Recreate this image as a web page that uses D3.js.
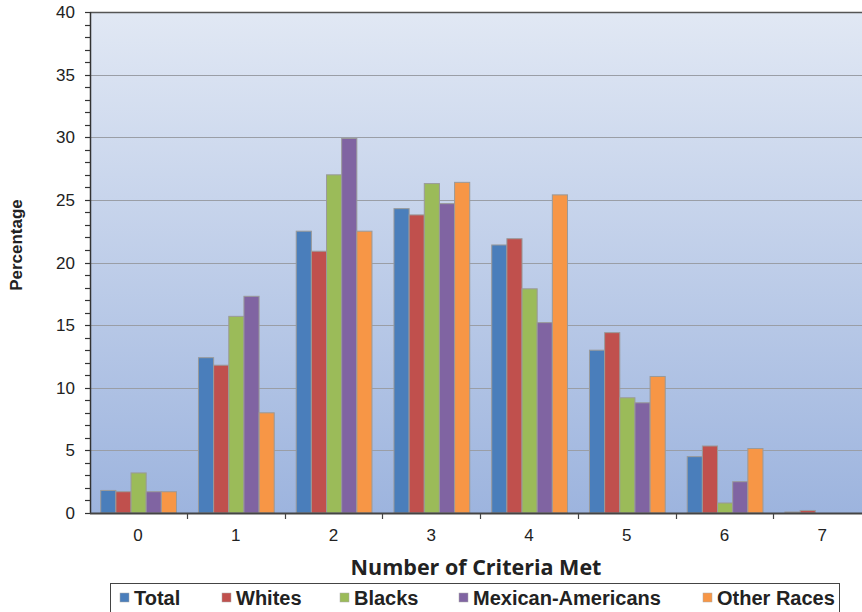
<!DOCTYPE html>
<html>
<head>
<meta charset="utf-8">
<script src="https://cdn.jsdelivr.net/npm/d3@7"></script>
<style>
  body { margin: 0; background: #fff; }
  svg { display: block; }
</style>
</head>
<body>
<div id="chart"></div>
<script>
// Data
const categories = ["0", "1", "2", "3", "4", "5", "6", "7"];
const seriesNames = ["Total", "Whites", "Blacks", "Mexican-Americans", "Other Races"];
const seriesColors = ["#4a7ebb", "#c0504d", "#9bbb59", "#8064a2", "#f79646"];
const total = [1.8, 12.4, 22.5, 24.3, 21.4, 13.0, 4.5, 0.08];
const whites = [1.7, 11.8, 20.9, 23.8, 21.9, 14.4, 5.35, 0.2];
const blacks = [3.2, 15.7, 27.0, 26.3, 17.9, 9.2, 0.8, 0];
const mexicanAmericans = [1.7, 17.3, 29.9, 24.7, 15.2, 8.8, 2.5, 0];
const otherRaces = [1.7, 8.0, 22.5, 26.4, 25.4, 10.9, 5.15, 0];
const yTicks = [0, 5, 10, 15, 20, 25, 30, 35, 40];

const seriesValues = [total, whites, blacks, mexicanAmericans, otherRaces];

const width = 862;
const height = 612;
const plot = { left: 90, top: 12, bottom: 513, right: 871 };
const sans = "'Liberation Sans', Arial, sans-serif";

const svg = d3
  .select("#chart")
  .append("svg")
  .attr("width", width)
  .attr("height", height);

// Plot background gradient
const defs = svg.append("defs");
const grad = defs
  .append("linearGradient")
  .attr("id", "bg")
  .attr("x1", 0)
  .attr("y1", 0)
  .attr("x2", 0)
  .attr("y2", 1);
grad.append("stop").attr("offset", "0%").attr("stop-color", "#e1e8f4");
grad.append("stop").attr("offset", "100%").attr("stop-color", "#9db4de");

const x = d3
  .scaleBand()
  .domain(categories)
  .range([plot.left - 1, plot.right])
  .paddingInner(0)
  .paddingOuter(0);

const xSub = d3
  .scaleBand()
  .domain(seriesNames)
  .range([x.bandwidth() * 0.12, x.bandwidth() * 0.895])
  .padding(0);

const y = d3.scaleLinear().domain([0, 40]).range([plot.bottom, plot.top]);

svg
  .append("rect")
  .attr("x", plot.left)
  .attr("y", plot.top)
  .attr("width", plot.right - plot.left)
  .attr("height", plot.bottom - plot.top)
  .attr("fill", "url(#bg)");

// Horizontal gridlines
svg
  .append("g")
  .selectAll("line")
  .data(yTicks.filter((d) => d > 0 && d < 40))
  .enter()
  .append("line")
  .attr("x1", plot.left)
  .attr("x2", plot.right)
  .attr("y1", (d) => Math.round(y(d)) + 0.5)
  .attr("y2", (d) => Math.round(y(d)) + 0.5)
  .attr("stroke", "#9a9ea6")
  .attr("stroke-width", 1.2);

// Top border of plot
svg
  .append("line")
  .attr("x1", plot.left)
  .attr("x2", plot.right)
  .attr("y1", plot.top + 0.5)
  .attr("y2", plot.top + 0.5)
  .attr("stroke", "#555")
  .attr("stroke-width", 1.5);

// Bars
const rows = categories.map((c, i) => ({
  cat: c,
  values: seriesNames.map((s, j) => ({ name: s, color: seriesColors[j], value: seriesValues[j][i] })),
}));

svg
  .append("g")
  .selectAll("g")
  .data(rows)
  .enter()
  .append("g")
  .attr("transform", (d) => `translate(${x(d.cat)},0)`)
  .selectAll("rect")
  .data((d) => d.values.filter((v) => v.value > 0))
  .enter()
  .append("rect")
  .attr("x", (d) => xSub(d.name))
  .attr("width", xSub.bandwidth())
  .attr("y", (d) => y(d.value))
  .attr("height", (d) => y(0) - y(d.value))
  .attr("fill", (d) => d.color)
  .attr("stroke", "#9a9a9a")
  .attr("stroke-width", 1);

// Y axis with minor ticks
const yAxis = svg.append("g");
yAxis
  .append("line")
  .attr("x1", plot.left + 0.5)
  .attr("x2", plot.left + 0.5)
  .attr("y1", plot.top)
  .attr("y2", plot.bottom + 1)
  .attr("stroke", "#333")
  .attr("stroke-width", 1.5);

yAxis
  .selectAll(".minor")
  .data(d3.range(0, 41))
  .enter()
  .append("line")
  .attr("x1", plot.left - 5)
  .attr("x2", plot.left)
  .attr("y1", (d) => Math.round(y(d)) + 0.5)
  .attr("y2", (d) => Math.round(y(d)) + 0.5)
  .attr("stroke", "#333")
  .attr("stroke-width", 1.2);

yAxis
  .selectAll("text")
  .data(yTicks)
  .enter()
  .append("text")
  .attr("x", plot.left - 15)
  .attr("y", (d) => y(d))
  .attr("dy", "0.36em")
  .attr("text-anchor", "end")
  .attr("font-family", sans)
  .attr("font-size", 17)
  .attr("fill", "#222")
  .text((d) => d);

// X axis
const xAxis = svg.append("g");
xAxis
  .append("line")
  .attr("x1", plot.left)
  .attr("x2", plot.right)
  .attr("y1", plot.bottom + 0.5)
  .attr("y2", plot.bottom + 0.5)
  .attr("stroke", "#444")
  .attr("stroke-width", 2);

xAxis
  .selectAll(".tick")
  .data(categories.slice(1))
  .enter()
  .append("line")
  .attr("x1", (d) => Math.round(x(d)) + 0.5)
  .attr("x2", (d) => Math.round(x(d)) + 0.5)
  .attr("y1", plot.bottom)
  .attr("y2", plot.bottom + 6)
  .attr("stroke", "#444")
  .attr("stroke-width", 1.2);

xAxis
  .selectAll("text")
  .data(categories)
  .enter()
  .append("text")
  .attr("x", (d) => x(d) + x.bandwidth() / 2)
  .attr("y", 541)
  .attr("text-anchor", "middle")
  .attr("font-family", sans)
  .attr("font-size", 17)
  .attr("fill", "#222")
  .text((d) => d);

// Axis titles
svg
  .append("text")
  .attr("transform", "translate(22,245) rotate(-90)")
  .attr("text-anchor", "middle")
  .attr("font-family", sans)
  .attr("font-weight", "bold")
  .attr("font-size", 17)
  .attr("fill", "#222")
  .text("Percentage");

svg
  .append("text")
  .attr("x", 476)
  .attr("y", 575)
  .attr("text-anchor", "middle")
  .attr("font-family", "'Open Sans', sans-serif")
  .attr("font-weight", "bold")
  .attr("font-size", 21.5)
  .attr("fill", "#222")
  .text("Number of Criteria Met");

// Legend
const legendX = [120, 222, 340, 459, 703];
svg
  .append("rect")
  .attr("x", 110.5)
  .attr("y", 583.5)
  .attr("width", 729)
  .attr("height", 40)
  .attr("fill", "#fff")
  .attr("stroke", "#444")
  .attr("stroke-width", 1);

const legend = svg
  .append("g")
  .selectAll("g")
  .data(seriesNames)
  .enter()
  .append("g")
  .attr("transform", (d, i) => `translate(${legendX[i]},597.5)`);

legend
  .append("rect")
  .attr("x", 0)
  .attr("y", -4.5)
  .attr("width", 9)
  .attr("height", 9)
  .attr("fill", (d, i) => seriesColors[i])
  .attr("stroke", "#aaa")
  .attr("stroke-width", 0.5);

legend
  .append("text")
  .attr("x", 14)
  .attr("y", 0)
  .attr("dy", "0.36em")
  .attr("font-family", sans)
  .attr("font-weight", "bold")
  .attr("font-size", 20)
  .attr("fill", "#222")
  .text((d) => d);
</script>
</body>
</html>
